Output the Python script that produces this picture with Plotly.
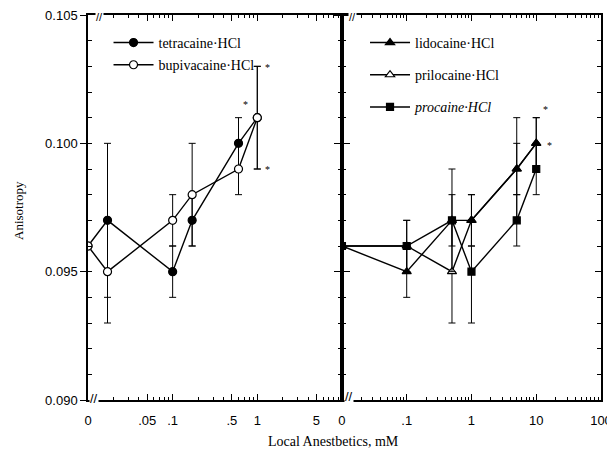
import math
import plotly.graph_objects as go

# ---------------- data ----------------
ZERO_POS = 0.01  # where "0" concentration sits on the broken log axes

left_conc = [0, 0.017, 0.1, 0.17, 0.6, 1.0]
tetracaine_y = [0.096, 0.097, 0.095, 0.097, 0.100, 0.101]
tetracaine_err = [0, 0.003, 0.001, 0.001, 0.001, 0.002]
bupivacaine_y = [0.096, 0.095, 0.097, 0.098, 0.099, 0.101]
bupivacaine_err = [0, 0.002, 0.001, 0.002, 0.001, 0.002]

right_conc = [0, 0.1, 0.5, 1.0, 5.0, 10.0]
lidocaine_y = [0.096, 0.095, 0.097, 0.097, 0.099, 0.100]
lidocaine_err = [0, 0.001, 0.002, 0.001, 0.002, 0.001]
prilocaine_y = [0.096, 0.096, 0.095, 0.097, 0.099, 0.100]
prilocaine_err = [0, 0.001, 0.002, 0.001, 0.001, 0.001]
procaine_y = [0.096, 0.096, 0.097, 0.095, 0.097, 0.099]
procaine_err = [0, 0.001, 0.001, 0.002, 0.001, 0.001]

left_tickvals = [0.01, 0.05, 0.1, 0.5, 1, 5]
left_ticktext = ["0", ".05", ".1", ".5", "1", "5"]
right_tickvals = [0.01, 0.1, 1, 10, 100]
right_ticktext = ["0", ".1", "1", "10", "100"]
y_tickvals = [0.090, 0.095, 0.100, 0.105]

# significance marks (concentration, anisotropy)
asterisks_left = [(0.72, 0.10153), (1.31, 0.10297), (1.31, 0.0990)]
asterisks_right = [(13.8, 0.10133), (15.9, 0.0999)]


def pos(conc):
    return [c if c > 0 else ZERO_POS for c in conc]


def minor_log(lo_exp, hi_exp):
    return [m * 10 ** e for e in range(lo_exp, hi_exp) for m in range(2, 10)]


Y_RANGE = [0.0899999, 0.1050001]
y_minor = [round(0.090 + i * 0.001, 3) for i in range(16)]

SERIF = "Liberation Serif"
SANS = "Liberation Sans"

# page body has an 8px default margin -> figure sized to fit the window
W, H = 607, 454

fig = go.Figure()


def add(xs, ys, err, name, symbol, fill, size, xa, ya, leg, rank):
    fig.add_trace(go.Scatter(
        x=pos(xs), y=ys, mode="lines+markers", name=name,
        line=dict(color="black", width=1.4),
        marker=dict(symbol=symbol, size=size, color=fill,
                    line=dict(color="black", width=1.2)),
        error_y=dict(type="data", array=err, color="black",
                     thickness=1, width=3.5),
        xaxis=xa, yaxis=ya, legend=leg, legendgroup=name, legendrank=rank,
    ))


add(left_conc, tetracaine_y, tetracaine_err, "tetracaine·HCl", "circle",
    "black", 8, "x", "y", "legend", 1)
add(left_conc, bupivacaine_y, bupivacaine_err, "bupivacaine·HCl", "circle",
    "white", 8, "x", "y", "legend", 2)

add(right_conc, prilocaine_y, prilocaine_err, "prilocaine·HCl", "triangle-up",
    "white", 8, "x2", "y2", "legend2", 2)
add(right_conc, lidocaine_y, lidocaine_err, "lidocaine·HCl", "triangle-up",
    "black", 8, "x2", "y2", "legend2", 1)
add(right_conc, procaine_y, procaine_err, "<i>procaine·HCl</i>", "square",
    "black", 7, "x2", "y2", "legend2", 3)

# invisible anchors so the tick-only overlay axes get drawn
for xa, ya, xv in [("x3", "y", 0.1), ("x4", "y2", 1.0), ("x", "y3", 0.1),
                   ("x2", "y4", 1.0), ("x2", "y5", 1.0)]:
    fig.add_trace(go.Scatter(x=[xv], y=[0.0975], mode="markers",
                             marker=dict(opacity=0, size=1), showlegend=False,
                             hoverinfo="skip", xaxis=xa, yaxis=ya))

axis_common = dict(showgrid=False, zeroline=False, tickcolor="black",
                   tickwidth=1.2, automargin=False, linecolor="black",
                   linewidth=1.5, ticklabeloverflow="allow",
                   tickfont=dict(family=SANS, size=13, color="black"))

fig.update_layout(
    template="none",
    width=W, height=H,
    margin=dict(l=80, r=14, t=7, b=62),
    plot_bgcolor="white", paper_bgcolor="white",
    # x axes: labelled decades/half-decades + minor log ticks
    xaxis=dict(domain=[0, 0.495], type="log", range=[-2, 1], anchor="y",
               tickmode="array", tickvals=left_tickvals,
               ticktext=left_ticktext, showline=True,
               ticks="inside", ticklen=6, mirror="ticks",
               ticklabelstandoff=8, **axis_common),
    xaxis3=dict(domain=[0, 0.495], type="log", range=[-2, 1], anchor="y",
                overlaying="x", tickmode="array", tickvals=minor_log(-2, 1),
                showticklabels=False, showline=False,
                ticks="inside", ticklen=3, mirror="ticks", **axis_common),
    xaxis2=dict(domain=[0.495, 1], type="log", range=[-2, 2], anchor="y2",
                tickmode="array", tickvals=right_tickvals,
                ticktext=right_ticktext, showline=True,
                ticks="inside", ticklen=6, mirror="ticks",
                ticklabelstandoff=8, **axis_common),
    xaxis4=dict(domain=[0.495, 1], type="log", range=[-2, 2], anchor="y2",
                overlaying="x2", tickmode="array", tickvals=minor_log(-2, 2),
                showticklabels=False, showline=False,
                ticks="inside", ticklen=3, mirror="ticks", **axis_common),
    # y axes
    yaxis=dict(range=Y_RANGE, anchor="x", tickmode="array",
               tickvals=y_tickvals, showline=True,
               tickformat=".3f", ticks="outside", ticklen=6, mirror="ticks",
               **axis_common),
    yaxis3=dict(range=Y_RANGE, anchor="x", overlaying="y", tickmode="array",
                tickvals=y_minor, showticklabels=False, showline=False,
                ticks="inside", ticklen=4, mirror="ticks", **axis_common),
    yaxis2=dict(range=Y_RANGE, anchor="x2", tickmode="array",
                tickvals=y_tickvals, showticklabels=False, showline=True,
                ticks="outside", ticklen=6, **axis_common),
    yaxis4=dict(range=Y_RANGE, anchor="x2", overlaying="y2", tickmode="array",
                tickvals=y_minor, showticklabels=False, showline=False,
                ticks="inside", ticklen=4, mirror="ticks", **axis_common),
    yaxis5=dict(range=Y_RANGE, anchor="x2", overlaying="y2", side="right",
                tickmode="array", tickvals=y_tickvals, showticklabels=False,
                showline=True, ticks="inside", ticklen=6, **axis_common),
    legend=dict(x=0.04, y=0.969, xanchor="left", yanchor="top",
                bgcolor="rgba(0,0,0,0)", traceorder="grouped",
                tracegroupgap=1, itemwidth=40,
                font=dict(family=SERIF, size=14, color="black")),
    legend2=dict(x=0.54, y=0.969, xanchor="left", yanchor="top",
                 bgcolor="rgba(0,0,0,0)", traceorder="grouped",
                 tracegroupgap=11, itemwidth=40,
                 font=dict(family=SERIF, size=14, color="black")),
    showlegend=True,
)

ann = []
for (ax, ay) in asterisks_left:
    ann.append(dict(x=math.log10(ax), y=ay, xref="x", yref="y", text="*",
                    showarrow=False,
                    font=dict(family=SERIF, size=10, color="black")))
for (ax, ay) in asterisks_right:
    ann.append(dict(x=math.log10(ax), y=ay, xref="x2", yref="y2", text="*",
                    showarrow=False,
                    font=dict(family=SERIF, size=10, color="black")))

# axis break marks
for (bx, by, fs) in [(0.0117, 0.005, 13), (0.023, 0.995, 11),
                     (0.509, 0.008, 13), (0.515, 0.995, 11)]:
    ann.append(dict(x=bx, y=by, xref="paper", yref="paper", text="//",
                    xanchor="center", yanchor="middle",
                    showarrow=False, bgcolor="white", borderpad=0,
                    font=dict(family=SANS, size=fs, color="black")))

ann.append(dict(x=0.4795, y=-0.1065, xref="paper", yref="paper",
                xanchor="center", yanchor="middle",
                text="Local Anestbetics, mM", showarrow=False,
                font=dict(family=SERIF, size=14, color="black")))
ann.append(dict(x=-0.1365, y=0.4935, xref="paper", yref="paper",
                xanchor="center", yanchor="middle",
                text="Anisotropy", textangle=-90, showarrow=False,
                font=dict(family=SERIF, size=13, color="black")))

fig.update_layout(annotations=ann)

fig.write_html("out.html")
